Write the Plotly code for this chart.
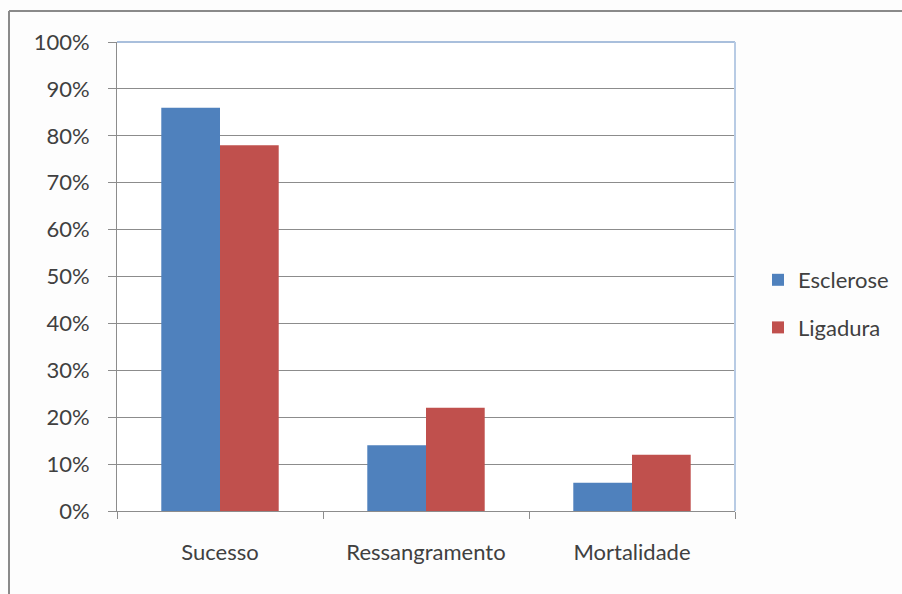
import plotly.graph_objects as go

categories = ["Sucesso", "Ressangramento", "Mortalidade"]
esclerose = [0.86, 0.14, 0.06]
ligadura = [0.78, 0.22, 0.12]
series_names = ["Esclerose", "Ligadura"]
tick_vals = [0, 0.1, 0.2, 0.3, 0.4, 0.5, 0.6, 0.7, 0.8, 0.9, 1.0]
tick_text = ["0%", "10%", "20%", "30%", "40%", "50%", "60%", "70%", "80%", "90%", "100%"]

FONT = "Lato"
TXT = "#404040"

fig = go.Figure()
fig.add_trace(go.Bar(x=categories, y=esclerose, name=series_names[0],
                     marker=dict(color="#4f81bd", line=dict(width=0)),
                     legendgroup="a"))
fig.add_trace(go.Bar(x=categories, y=ligadura, name=series_names[1],
                     marker=dict(color="#c0504d", line=dict(width=0)),
                     legendgroup="b"))

W, H = 902, 594
L, R, T, B = 117, 167, 42, 83
pw, ph = W - L - R, H - T - B

def px(x):
    return (x - L) / pw

def py(y):
    return (H - B - y) / ph

fig.update_layout(
    width=W, height=H,
    margin=dict(l=L, r=R, t=T, b=B, pad=0, autoexpand=False),
    paper_bgcolor="#fdfdfd",
    plot_bgcolor="#ffffff",
    barmode="group",
    bargap=0.43,
    bargroupgap=0,
    font=dict(family=FONT, size=22, color=TXT),
    showlegend=True,
    legend=dict(x=px(758), y=py(304), xanchor="left", yanchor="middle",
                font=dict(family=FONT, size=22, color=TXT),
                bgcolor="rgba(0,0,0,0)", tracegroupgap=16,
                traceorder="grouped", itemwidth=30),
    xaxis=dict(
        showgrid=False, showline=True, linecolor="#8c8c8c", linewidth=1,
        ticks="outside", ticklen=7, tickcolor="#8c8c8c", tickson="boundaries",
        tickfont=dict(family=FONT, size=22, color=TXT),
        ticklabelstandoff=22,
    ),
    yaxis=dict(
        range=[0, 1], tickvals=tick_vals, ticktext=tick_text,
        showgrid=True, gridcolor="#8c8c8c", gridwidth=1,
        showline=True, linecolor="#8c8c8c", linewidth=1,
        ticks="outside", ticklen=8, tickcolor="#8c8c8c",
        tickfont=dict(family=FONT, size=22, color=TXT),
        ticklabelstandoff=14, zeroline=False,
    ),
    shapes=[
        dict(type="line", xref="paper", yref="paper", x0=0, x1=1, y0=1, y1=1,
             line=dict(color="#a9bfdc", width=2), layer="above"),
        dict(type="line", xref="paper", yref="paper", x0=1, x1=1, y0=0, y1=1,
             line=dict(color="#b8cbe4", width=2), layer="above"),
        dict(type="line", xref="paper", yref="paper", x0=px(9), x1=px(910), y0=py(11), y1=py(11),
             line=dict(color="#8a8a8a", width=2), layer="above"),
        dict(type="line", xref="paper", yref="paper", x0=px(9), x1=px(9), y0=py(11), y1=py(600),
             line=dict(color="#8a8a8a", width=2), layer="above"),
    ],
)

fig.write_html("out.html")
